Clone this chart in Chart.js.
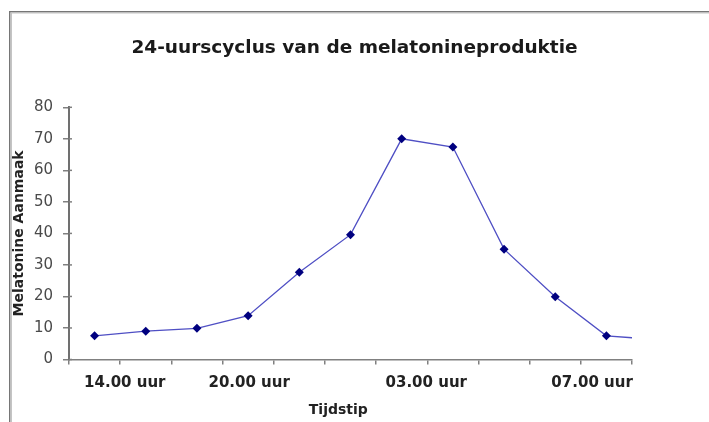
<!DOCTYPE html>
<html>
<head>
<meta charset="utf-8">
<script src="https://cdn.jsdelivr.net/npm/chart.js@4"></script>
<style>
  html, body { margin: 0; padding: 0; background: #fff; }
  #wrap { width: 709px; height: 422px; }
</style>
</head>
<body>
<div id="wrap"><canvas id="c" width="709" height="422"></canvas></div>
<script>
// Melatonin output over one 24-hour cycle, one reading per time slot
const measurements = [7.5, 9.0, 9.9, 13.9, 27.7, 39.6, 70.0, 67.4, 35.0, 19.9, 7.5, 6.3];
// Clock labels written under the time axis
const timeLabels = ['14.00 uur', '20.00 uur', '03.00 uur', '07.00 uur'];
// Where each clock label sits along the 11 visible slots
const labelSlots = [1.09, 3.52, 6.98, 10.22];
const slotCount = 11;

const points = measurements.map((v, i) => ({ x: i + 0.5, y: v }));

const FONT = 'DejaVu Sans';
const AXIS_GREY = '#808080';

// Sunken frame on the top and left edges, plus the inward half of each value tick
const framePlugin = {
  id: 'frame',
  beforeDraw(chart) {
    const { ctx, width, height } = chart;
    ctx.save();
    ctx.fillStyle = '#ffffff';
    ctx.fillRect(0, 0, width, height);
    ctx.fillStyle = '#767676';
    ctx.fillRect(9, 11, width - 9, 1.5);
    ctx.fillRect(9, 11, 1.5, height - 11);
    ctx.fillStyle = '#c4c4c4';
    ctx.fillRect(10.5, 12.5, width, 1);
    ctx.fillRect(10.5, 12.5, 1.5, height);
    ctx.restore();
  },
  afterDraw(chart) {
    const y = chart.scales.y;
    const ctx = chart.ctx;
    ctx.save();
    ctx.strokeStyle = AXIS_GREY;
    ctx.lineWidth = 1.5;
    y.ticks.forEach(t => {
      const py = y.getPixelForValue(t.value);
      ctx.beginPath();
      ctx.moveTo(y.right, py);
      ctx.lineTo(y.right + 3, py);
      ctx.stroke();
    });
    ctx.restore();
  }
};

new Chart(document.getElementById('c'), {
  type: 'line',
  data: {
    datasets: [{
      data: points,
      xAxisID: 'x',
      yAxisID: 'y',
      borderColor: '#4f4fc4',
      borderWidth: 1.3,
      tension: 0,
      pointStyle: 'rectRot',
      pointRadius: 4.5,
      pointBackgroundColor: '#00007f',
      pointBorderColor: '#00007f',
      pointBorderWidth: 0
    }]
  },
  options: {
    responsive: false,
    devicePixelRatio: 1,
    animation: false,
    layout: { padding: 0 },
    plugins: {
      legend: { display: false },
      tooltip: { enabled: false },
      title: {
        display: true,
        text: '24-uurscyclus van de melatonineproduktie',
        color: '#1a1a1a',
        font: { family: FONT, size: 18.5, weight: 'bold' },
        padding: { top: 37, bottom: 48.1 }
      }
    },
    scales: {
      x: {
        type: 'linear',
        position: 'bottom',
        weight: 0,
        min: 0,
        max: slotCount,
        afterBuildTicks: s => {
          s.ticks = Array.from({ length: slotCount + 1 }, (_, i) => ({ value: i }));
        },
        ticks: { display: false, autoSkip: false },
        grid: { drawOnChartArea: false, tickLength: 5, color: AXIS_GREY, lineWidth: 1.5 },
        border: { color: AXIS_GREY, width: 1.5 },
        afterFit: s => { s.height = 6; }
      },
      xl: {
        type: 'linear',
        position: 'bottom',
        weight: 1,
        min: 0,
        max: slotCount,
        afterBuildTicks: s => {
          s.ticks = labelSlots.map(v => ({ value: v }));
        },
        ticks: {
          autoSkip: false,
          maxRotation: 0,
          padding: 9,
          color: '#222',
          font: { family: FONT, size: 15, weight: 'bold' },
          callback: (v, i) => timeLabels[i]
        },
        grid: { display: false, drawTicks: false },
        border: { display: false },
        title: {
          display: true,
          text: 'Tijdstip     ',
          color: '#222',
          font: { family: FONT, size: 14, weight: 'bold' },
          padding: { top: 0, bottom: 3 }
        },
        afterFit: s => { s.height = 56.5; }
      },
      y: {
        type: 'linear',
        position: 'left',
        min: 0,
        max: 80,
        ticks: {
          stepSize: 10,
          padding: 10,
          color: '#4a4a4a',
          font: { family: FONT, size: 15 }
        },
        grid: { drawOnChartArea: false, tickLength: 6, color: AXIS_GREY, lineWidth: 1.5 },
        border: { color: '#707070', width: 2 },
        title: {
          display: true,
          text: 'Melatonine Aanmaak',
          color: '#222',
          font: { family: FONT, size: 14, weight: 'bold' },
          padding: { top: 11, bottom: 0 }
        },
        afterFit: s => { s.width = 69; }
      },
      // empty margin on the right of the plot
      yr: {
        type: 'linear',
        position: 'right',
        min: 0,
        max: 80,
        ticks: { display: false },
        grid: { display: false, drawTicks: false },
        border: { display: false },
        afterFit: s => { s.width = 77; }
      }
    }
  },
  plugins: [framePlugin]
});
</script>
</body>
</html>
